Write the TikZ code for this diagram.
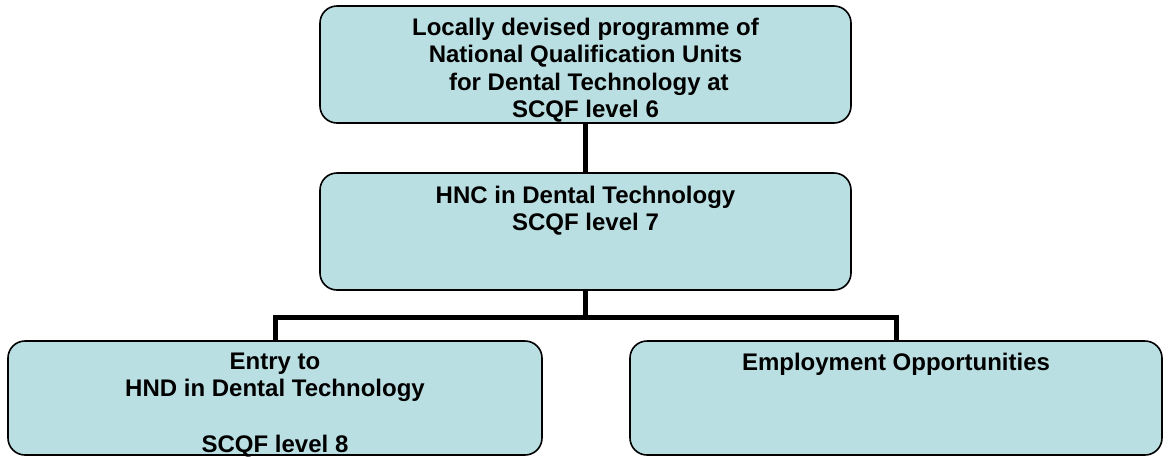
\documentclass[tikz,border=0pt]{standalone}
\usepackage{fontspec}
\setmainfont{Liberation Sans}
\definecolor{boxfill}{RGB}{186,223,226}
\begin{document}
\begin{tikzpicture}[x=1pt,y=-1pt,
  box/.style={draw=black, line width=1.6pt, fill=boxfill, rounded corners=17pt, inner sep=0pt},
  lbl/.style={font=\bfseries\fontsize{24}{27.6}\selectfont, align=center, inner sep=0pt, anchor=north},
  link/.style={draw=black, line width=5pt}]
\useasboundingbox (0,0) rectangle (1170,456);

% qualification boxes
\node[box, minimum width=531pt, minimum height=117pt] (top)   at (585.5,64.5) {};
\node[box, minimum width=531pt, minimum height=117pt] (mid)   at (585.5,231.5) {};
\node[box, minimum width=534pt, minimum height=114pt] (left)  at (275,398) {};
\node[box, minimum width=532pt, minimum height=114pt] (right) at (896,398) {};

% box texts
\node[lbl] (toptext) at (585.5,17.5) {Locally devised programme of\\National Qualification Units\\\ for Dental Technology at\\SCQF level 6};
\node[lbl] (midtext) at (585.5,185.5) {HNC in Dental Technology\\SCQF level 7};
\node[lbl] (lefttext) at (275,352.5) {Entry to\\HND in Dental Technology\\[27.6pt]SCQF level 8};
\node[lbl] (righttext) at (896,352.5) {Employment Opportunities};

% connectors
\coordinate (split) at (585.5,317);
\draw[link] (top.south) -- (mid.north);
\draw[link] (mid.south) -- (split);
\draw[link] (split) -| (left.north);
\draw[link] (split) -| (right.north);
\end{tikzpicture}
\end{document}
